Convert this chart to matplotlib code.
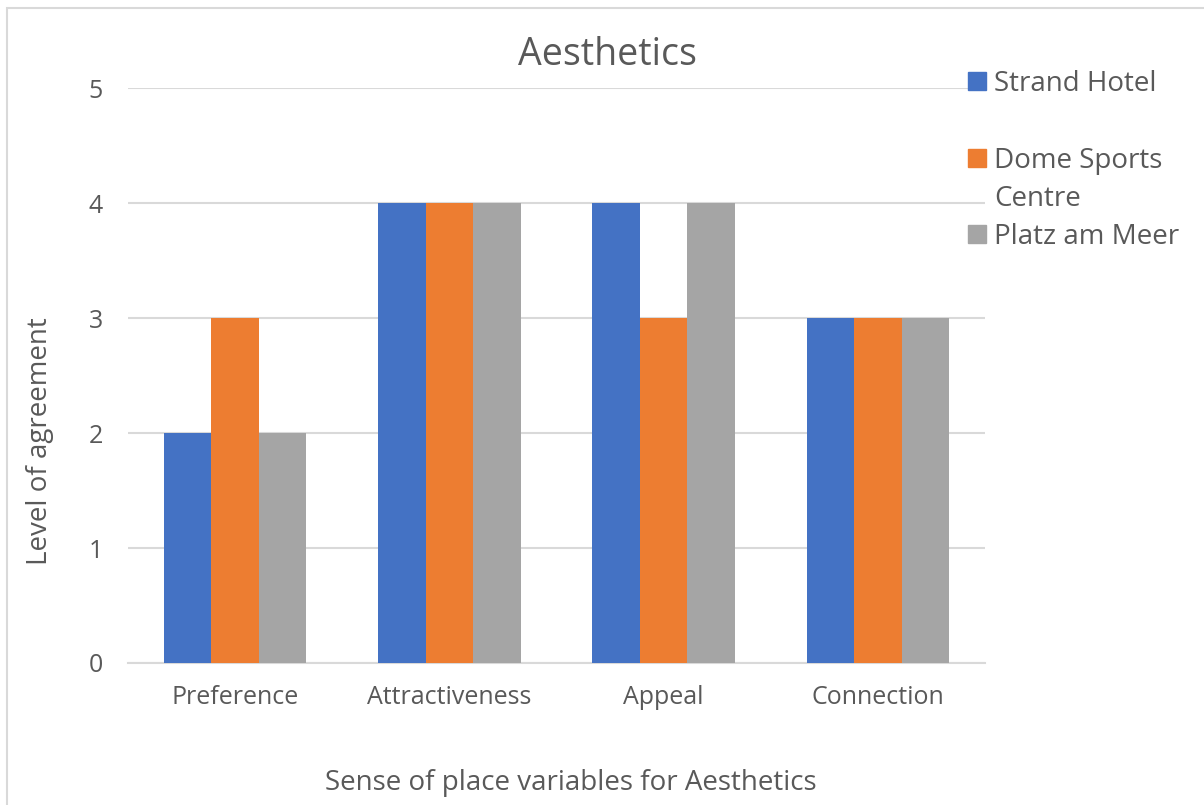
import matplotlib.pyplot as plt
from matplotlib.patches import Rectangle
import numpy as np

categories = ["Preference", "Attractiveness", "Appeal", "Connection"]
series = ["Strand Hotel", "Dome Sports\nCentre", "Platz am Meer"]
strand_hotel = [2, 4, 4, 3]
dome_sports = [3, 4, 3, 3]
platz_am_meer = [2, 4, 4, 3]
colors = ["#4472C4", "#ED7D31", "#A5A5A5"]

plt.rcParams['font.family'] = ['Open Sans', 'DejaVu Sans']
txt = "#595959"
W, H = 1204, 805

fig = plt.figure(figsize=(12.04, 8.05), dpi=100)
ax = fig.add_axes([128 / W, 1 - 663 / H, 857 / W, 575 / H])

x = np.arange(len(categories))
w = 0.222
for i, vals in enumerate([strand_hotel, dome_sports, platz_am_meer]):
  ax.bar(x + (i - 1) * w, vals, width=w, color=colors[i], zorder=3)

ax.set_xlim(-0.5, len(categories) - 0.5)
ax.set_ylim(0, 5)
ax.set_yticks(range(6))
ax.set_xticks(x)
ax.set_xticklabels(categories)
ax.yaxis.grid(True, color="#D9D9D9", linewidth=1.5, zorder=0)
for s in ["top", "right", "left"]:
  ax.spines[s].set_visible(False)
ax.spines["bottom"].set_color("#D9D9D9")
ax.spines["bottom"].set_linewidth(1.5)
ax.tick_params(axis="both", length=0, colors=txt, labelsize=18)
ax.tick_params(axis="x", pad=16)
ax.tick_params(axis="y", pad=18)

# titles placed in figure coords, centred like the spreadsheet layout
fig.text(607 / W, 1 - 55 / H, "Aesthetics", fontsize=27, color=txt, ha="center", va="center")
fig.text(571 / W, 1 - 783 / H, "Sense of place variables for Aesthetics", fontsize=20,
         color=txt, ha="center", va="center")
fig.text(40 / W, 1 - 441 / H, "Level of agreement", fontsize=20, color=txt,
         rotation=90, ha="center", va="center")

# legend drawn by hand so the wrapped entry keeps its square on the first line
base_y = 91
for c, lab in zip(colors, series):
  fig.patches.append(Rectangle((968 / W, 1 - (base_y - 1) / H), 18 / W, 18 / H,
                               transform=fig.transFigure, color=c))
  for line in lab.split("\n"):
    fig.text(994 / W, 1 - base_y / H, line, fontsize=20, color=txt, va="baseline")
    base_y += 38.3
  base_y += 38.3 if lab.count("\n") == 0 else 0

# chart border
fig.patches.append(Rectangle((7 / W, -0.05), 1.2, 1.05 - 8 / H,
                             transform=fig.transFigure, fill=False,
                             edgecolor="#D9D9D9", linewidth=1.5))

fig.savefig("out.png", dpi=100)
